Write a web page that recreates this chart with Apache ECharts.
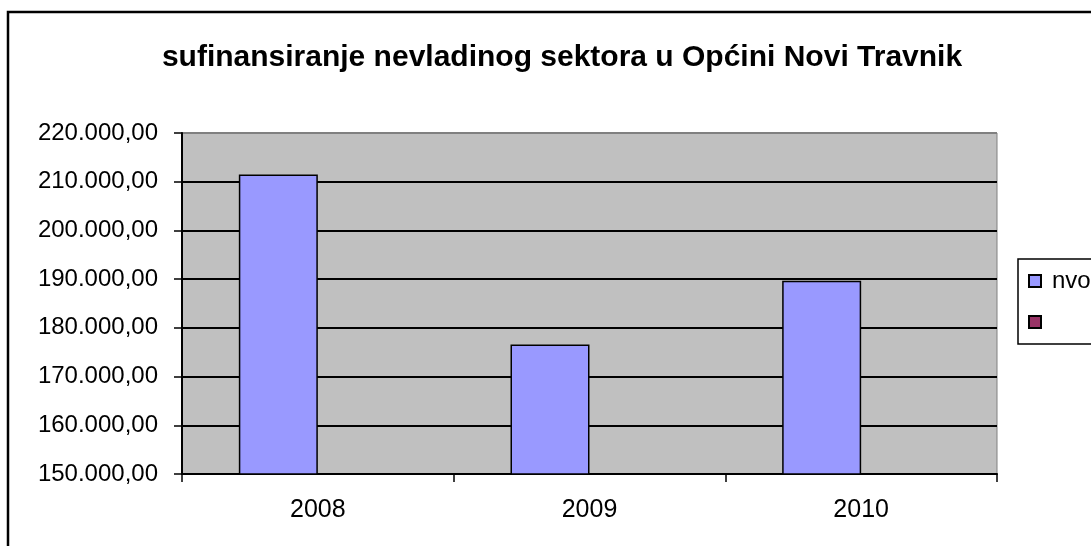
<!DOCTYPE html>
<html>
<head>
<meta charset="utf-8">
<style>
  html, body { margin: 0; padding: 0; background: #fff; }
  #chart { width: 1091px; height: 546px; }
</style>
<script src="https://cdn.jsdelivr.net/npm/echarts@6/dist/echarts.min.js"></script>
</head>
<body>
<div id="chart"></div>
<script>
// podaci
const years = ["2008", "2009", "2010"];
const nvo = [211500, 176600, 189650];
const empty = [null, null, null];
const yMin = 150000;
const yMax = 220000;
const yStep = 10000;

// 220000 -> "220.000,00"
function fmt(v) {
  const s = String(Math.round(v));
  return s.replace(/\B(?=(\d{3})+(?!\d))/g, ".") + ",00";
}

const font = "Arial, 'Liberation Sans', sans-serif";
const nLines = (yMax - yMin) / yStep + 1;
const gridColors = [];
for (let i = 0; i < nLines; i++) gridColors.push(i === nLines - 1 ? "#808080" : "#000");

const em = echarts.init(document.getElementById("chart"));
em.setOption({
  animation: false,
  title: {
    text: "sufinansiranje nevladinog sektora u Općini Novi Travnik",
    left: 557,
    textAlign: "center",
    top: 38,
    textStyle: { fontFamily: font, fontSize: 30, fontWeight: "bold", color: "#000" }
  },
  legend: {
    orient: "vertical",
    left: 1018,
    top: 259,
    padding: [10, 60, 10, 10],
    itemGap: 17,
    itemWidth: 12,
    itemHeight: 12,
    icon: "rect",
    borderColor: "#000",
    borderWidth: 1.5,
    textStyle: { fontFamily: font, fontSize: 24, color: "#000", padding: [0, 0, 0, 6] },
    data: ["nvo", " "]
  },
  grid: {
    left: 182,
    top: 133,
    right: 94,
    bottom: 72,
    show: true,
    backgroundColor: "#C0C0C0",
    borderColor: "#808080",
    borderWidth: 1
  },
  xAxis: {
    type: "category",
    data: years,
    axisLine: { lineStyle: { color: "#000", width: 2 } },
    axisTick: { show: true, length: 8, interval: 0, lineStyle: { color: "#000", width: 1.5 } },
    axisLabel: { fontFamily: font, fontSize: 25, color: "#000", margin: 24 }
  },
  yAxis: {
    type: "value",
    min: yMin,
    max: yMax,
    interval: yStep,
    axisLine: { show: true, lineStyle: { color: "#000", width: 2 } },
    axisTick: { show: true, length: 8, lineStyle: { color: "#000", width: 1.5 } },
    axisLabel: { fontFamily: font, fontSize: 24, color: "#000", margin: 24, formatter: fmt },
    splitLine: { show: true, lineStyle: { color: gridColors, width: 2 } }
  },
  series: [
    {
      name: "nvo",
      type: "bar",
      data: nvo,
      barWidth: 79,
      barGap: "0%",
      itemStyle: { color: "#9999FF", borderColor: "#000", borderWidth: 1.5 }
    },
    {
      name: " ",
      type: "bar",
      data: empty,
      barWidth: 79,
      itemStyle: { color: "#993366", borderColor: "#000", borderWidth: 1.5 }
    }
  ],
  graphic: [
    {
      type: "rect",
      shape: { x: 8, y: 12, width: 1200, height: 700 },
      style: { fill: null, stroke: "#000", lineWidth: 2.5 },
      silent: true
    }
  ]
});
</script>
</body>
</html>
